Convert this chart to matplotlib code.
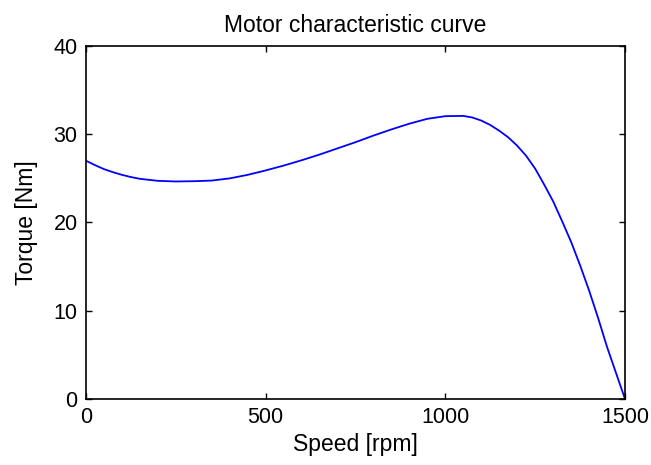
import numpy as np
import matplotlib.pyplot as plt

# torque-speed curve of the motor (finer steps where it bends)
speed = [0, 25, 50, 75, 100, 125, 150, 200, 250, 300, 350, 400, 450,
         500, 550, 600, 650, 700, 750, 800, 850, 900, 950,
         1000, 1050, 1075, 1100, 1125, 1150, 1175, 1200, 1225, 1250, 1275,
         1300, 1325, 1350, 1375, 1400, 1425, 1450, 1475, 1500]
torque = [27.0, 26.5, 26.05, 25.7, 25.4, 25.15, 24.95, 24.72, 24.65, 24.68, 24.75, 25.0, 25.4,
          25.9, 26.45, 27.05, 27.7, 28.4, 29.1, 29.85, 30.55, 31.2, 31.75,
          32.05, 32.08, 31.9, 31.55, 31.05, 30.4, 29.65, 28.7, 27.55, 26.1, 24.3,
          22.4, 20.15, 17.8, 15.15, 12.3, 9.2, 5.9, 2.95, 0.0]

xticks = [0, 500, 1000, 1500]
yticks = [0, 10, 20, 30, 40]

plt.rcParams['font.family'] = ['Liberation Sans', 'DejaVu Sans']

fig = plt.figure(figsize=(6.51, 4.65), dpi=100)
ax = fig.add_axes([86/651, 66/465, 539/651, 353/465])

ax.plot(speed, torque, color='#0000ff', lw=1.3)

ax.set_xlim(0, 1500)
ax.set_ylim(0, 40)
ax.set_xticks(xticks)
ax.set_yticks(yticks)
ax.tick_params(direction='in', length=4, width=1, top=True, right=True,
               labelsize=15.5, pad=6)
for s in ax.spines.values():
    s.set_linewidth(1.2)

ax.set_title('Motor characteristic curve', fontsize=16.5, pad=10)
ax.set_xlabel('Speed [rpm]', fontsize=16.5, labelpad=3)
ax.set_ylabel('Torque [Nm]', fontsize=16.5, labelpad=11)

fig.savefig('out.png', dpi=100)
